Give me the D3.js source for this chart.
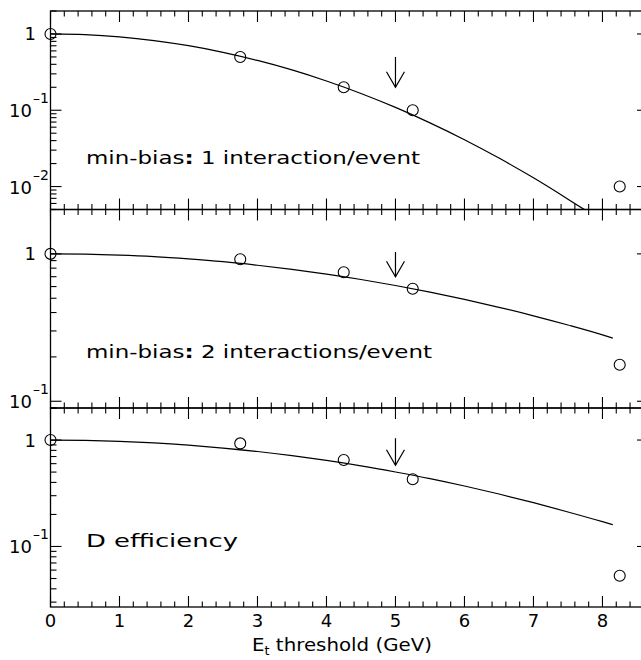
<!DOCTYPE html>
<html><head><meta charset="utf-8">
<script src="https://cdn.jsdelivr.net/npm/d3@7"></script>
<style>
body{margin:0;background:#fff}
svg{display:block}
text{font-family:"DejaVu Sans","Liberation Sans",Arial,sans-serif;fill:#000}
</style></head><body>
<script>
// ---------------- data ----------------
const xTicks = [0,1,2,3,4,5,6,7,8];
const xTickLabels = ["0","1","2","3","4","5","6","7","8"];
const xTitle = "threshold (GeV)";

const panelTitles = [
  ["min-bias", ":", " 1 interaction/event"],
  ["min-bias", ":", " 2 interactions/event"],
  ["D efficiency", "", ""]
];

const pointX = [0, 2.75, 4.25, 5.25, 8.25];
const points1 = [1, 0.5, 0.2, 0.1, 0.01];
const points2 = [1, 0.92, 0.75, 0.58, 0.177];
const points3 = [1, 0.93, 0.65, 0.428, 0.053];

const curveX1 = [0,0.5,1,1.5,2,2.5,3,3.5,4,4.5,5,5.5,6,6.5,7,7.5,7.75];
const curve1  = [1,0.978,0.915,0.819,0.702,0.575,0.450,0.338,0.242,0.166,0.109,0.0684,0.0411,0.0236,0.0130,0.00683,0.0049];

const curveX2 = [0,0.5,1,1.5,2,2.5,3,3.5,4,4.5,5,5.5,6,6.5,7,7.5,8,8.15];
const curve2  = [1,0.995,0.980,0.957,0.924,0.885,0.837,0.785,0.729,0.670,0.610,0.550,0.491,0.434,0.380,0.329,0.282,0.268];
const curve3  = [1,0.993,0.973,0.940,0.895,0.841,0.780,0.713,0.643,0.572,0.501,0.434,0.370,0.311,0.258,0.211,0.171,0.160];

const arrowX = 5;
const arrowTop = [0.5, 1.03, 1.04];
const arrowTip = [0.2, 0.7, 0.58];

const yDomains = [[0.005, 2], [0.09, 2], [0.027, 2]];
const yMajor = [[0.01, 0.1, 1], [0.1, 1], [0.1, 1]];
const yMajorExp = [[-2, -1, 0], [-1, 0], [-1, 0]];

// ---------------- layout ----------------
const W = 641, H = 660;
const panelBox = [[11, 209.5], [209.5, 408], [408, 607]];
const xLeft = 50.5, xRight = 648;

const svg = d3.select("body").append("svg").attr("width", W).attr("height", H);
const x = d3.scaleLinear().domain([0, 8.66]).range([xLeft, xRight]);

const series = [
  {pts: points1, cx: curveX1, cy: curve1},
  {pts: points2, cx: curveX2, cy: curve2},
  {pts: points3, cx: curveX2, cy: curve3}
];

const defs = svg.append("defs");

panelBox.forEach((box, i) => {
  const [top, bot] = box;
  const y = d3.scaleLog().domain(yDomains[i]).range([bot, top]);
  const g = svg.append("g");

  defs.append("clipPath").attr("id", "clip" + i)
    .append("rect").attr("x", xLeft).attr("y", top).attr("width", xRight - xLeft).attr("height", bot - top);

  // frame
  g.append("rect").attr("x", xLeft).attr("y", top).attr("width", xRight - xLeft).attr("height", bot - top)
    .attr("fill", "none").attr("stroke", "#000").attr("stroke-width", 1.3);

  // x ticks (top & bottom, inward)
  const xt = d3.range(0, 8.661, 0.2);
  xt.forEach(v => {
    const major = Math.abs(v - Math.round(v)) < 1e-6;
    const L = major ? 11 : 5.5;
    const px = x(v);
    g.append("line").attr("x1", px).attr("x2", px).attr("y1", bot).attr("y2", bot - L)
      .attr("stroke", "#000").attr("stroke-width", 1.1);
    g.append("line").attr("x1", px).attr("x2", px).attr("y1", top).attr("y2", top + L)
      .attr("stroke", "#000").attr("stroke-width", 1.1);
  });

  // y ticks (left & right, inward)
  const [d0, d1] = yDomains[i];
  for (let e = Math.floor(Math.log10(d0)); e <= Math.ceil(Math.log10(d1)); e++) {
    for (let k = 1; k <= 9; k++) {
      const v = k * Math.pow(10, e);
      if (v < d0 * 0.999 || v > d1 * 1.001) continue;
      const L = k === 1 ? 11 : 6;
      const py = y(v);
      g.append("line").attr("x1", xLeft).attr("x2", xLeft + L).attr("y1", py).attr("y2", py)
        .attr("stroke", "#000").attr("stroke-width", 1.1);
      g.append("line").attr("x1", xRight).attr("x2", xRight - L).attr("y1", py).attr("y2", py)
        .attr("stroke", "#000").attr("stroke-width", 1.1);
    }
  }

  // y labels
  yMajor[i].forEach((v, j) => {
    const py = y(v);
    const ex = yMajorExp[i][j];
    if (ex === 0) {
      g.append("text").attr("x", 36).attr("y", py + 6.5).attr("text-anchor", "end")
        .attr("font-size", 18).text("1");
    } else {
      const t = g.append("text").attr("x", 9).attr("y", py + 7).attr("text-anchor", "start")
        .attr("font-size", 18);
      t.append("tspan").text("10");
      t.append("tspan").attr("font-size", 14).attr("dx", 1).attr("dy", -14).text("\u2013" + Math.abs(ex));
    }
  });

  // curve
  const s = series[i];
  const lineGen = d3.line().x(d => x(d[0])).y(d => y(d[1])).curve(d3.curveMonotoneX);
  g.append("path").datum(s.cx.map((v, k) => [v, s.cy[k]]))
    .attr("d", lineGen).attr("fill", "none").attr("stroke", "#000").attr("stroke-width", 1.2)
    .attr("clip-path", "url(#clip" + i + ")");

  // points
  g.selectAll("circle.p").data(pointX.map((v, k) => [v, s.pts[k]])).enter().append("circle")
    .attr("cx", d => x(d[0])).attr("cy", d => y(d[1])).attr("r", 5.5)
    .attr("fill", "none").attr("stroke", "#000").attr("stroke-width", 1.1);

  // arrow
  const ax = x(arrowX), ay0 = y(arrowTop[i]), ay1 = y(arrowTip[i]);
  g.append("line").attr("x1", ax).attr("x2", ax).attr("y1", ay0).attr("y2", ay1)
    .attr("stroke", "#000").attr("stroke-width", 1.2);
  g.append("path").attr("d", `M${ax - 9},${ay1 - 15.5}L${ax},${ay1}L${ax + 9},${ay1 - 15.5}`)
    .attr("fill", "none").attr("stroke", "#000").attr("stroke-width", 1.2);

  // panel title
  const baselines = [164.3, 358.3, 547];
  const widths = [334, 346, 152];
  const t = g.append("text").attr("x", 86).attr("y", baselines[i]).attr("font-size", 18.5)
    .attr("textLength", widths[i]).attr("lengthAdjust", "spacingAndGlyphs");
  const pt = panelTitles[i];
  t.append("tspan").text(pt[0]);
  if (pt[1]) t.append("tspan").attr("font-weight", "bold").text(pt[1]);
  if (pt[2]) t.append("tspan").text(pt[2]);
});

// x tick labels
xTicks.forEach((v, k) => {
  svg.append("text").attr("x", x(v)).attr("y", 627).attr("text-anchor", "middle")
    .attr("font-size", 18).text(xTickLabels[k]);
});

// x title
const xt = svg.append("text").attr("x", 342).attr("y", 651).attr("text-anchor", "middle").attr("font-size", 18.5)
  .attr("textLength", 180).attr("lengthAdjust", "spacingAndGlyphs");
xt.append("tspan").text("E");
xt.append("tspan").attr("font-size", 12).attr("dy", 4).text("t");
xt.append("tspan").attr("dy", -4).text(" " + xTitle);
</script>
</body></html>
